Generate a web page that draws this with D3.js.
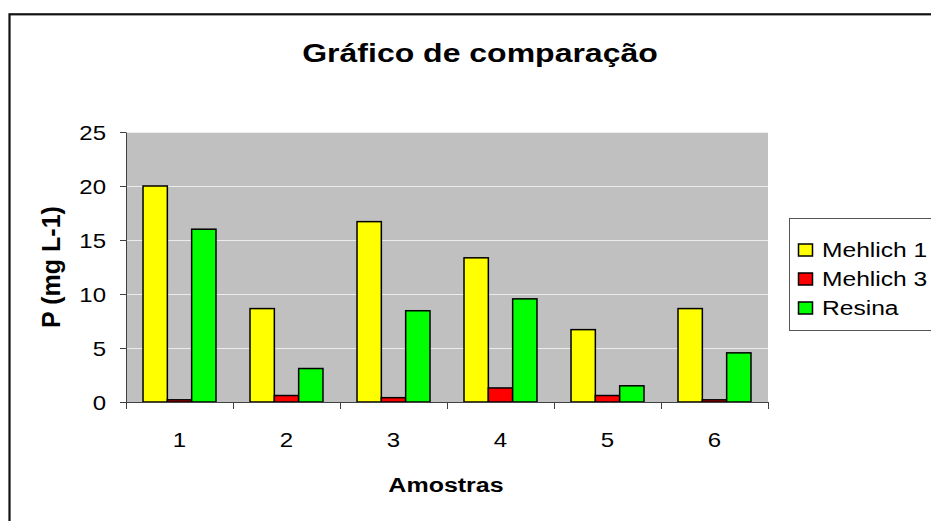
<!DOCTYPE html>
<html>
<head>
<meta charset="utf-8">
<script src="https://cdn.jsdelivr.net/npm/d3@7"></script>
<style>
  body { margin: 0; background: #fff; }
  text { font-family: "Liberation Sans", Arial, sans-serif; }
</style>
</head>
<body>
<div id="figure"></div>
<script>
// data
var samples = ["1", "2", "3", "4", "5", "6"];
var seriesNames = ["Mehlich 1", "Mehlich 3", "Resina"];
var mehlich1 = [20.0, 8.65, 16.7, 13.35, 6.7, 8.65];
var mehlich3 = [0.2, 0.6, 0.4, 1.3, 0.6, 0.2];
var resina = [16.0, 3.1, 8.45, 9.55, 1.5, 4.55];
var yTicks = [0, 5, 10, 15, 20, 25];
var colors = ["#ffff00", "#ff0000", "#00ff00"];

var w = 931, h = 521;
var svg = d3.select("#figure").append("svg")
    .attr("width", w)
    .attr("height", h);

// outer chart frame (runs off the right and bottom edges)
svg.append("rect")
    .attr("x", 9.5).attr("y", 14.3)
    .attr("width", w + 20).attr("height", h + 20)
    .attr("fill", "#fff")
    .attr("stroke", "#111")
    .attr("stroke-width", 2.2);

svg.append("text")
    .attr("transform", "translate(480,62) scale(1.28,1)")
    .attr("text-anchor", "middle")
    .style("font-size", "25px")
    .attr("font-weight", "bold")
    .text("Gráfico de comparação");

var plotLeft = 126, plotRight = 768, plotTop = 132, plotBottom = 402;

var x0 = d3.scaleBand().domain(samples).range([plotLeft, plotRight]);
var yScale = d3.scaleLinear().domain([0, 25]).range([plotBottom, plotTop]);

// plot area
svg.append("rect")
    .attr("x", plotLeft).attr("y", plotTop)
    .attr("width", plotRight - plotLeft).attr("height", plotBottom - plotTop)
    .attr("fill", "#c0c0c0");

svg.selectAll(".grid")
    .data(yTicks.filter(function(d) { return d > 0; }))
    .enter().append("line")
    .attr("x1", plotLeft).attr("x2", plotRight)
    .attr("y1", function(d) { return Math.round(yScale(d)) + 0.5; })
    .attr("y2", function(d) { return Math.round(yScale(d)) + 0.5; })
    .attr("stroke", "#ececec")
    .attr("stroke-width", 1);

// bars: gap width 140% like Excel
var bw = x0.bandwidth() / 4.4;
var gap = bw * 0.7;
var table = [mehlich1, mehlich3, resina];
samples.forEach(function(s, i) {
    table.forEach(function(vals, k) {
        svg.append("rect")
            .attr("x", x0(s) + gap + k * bw)
            .attr("y", yScale(vals[i]))
            .attr("width", bw)
            .attr("height", plotBottom - yScale(vals[i]))
            .attr("fill", colors[k])
            .attr("stroke", "#000")
            .attr("stroke-width", 1.5);
    });
});

// axes
var yAxis = d3.axisLeft(yScale).tickValues(yTicks).tickSize(6).tickSizeOuter(0);
var gy = svg.append("g")
    .attr("transform", "translate(" + plotLeft + ",0)")
    .call(yAxis);
gy.select(".domain").attr("stroke", "#404040");
gy.selectAll(".tick line").attr("stroke", "#404040");
gy.selectAll("text")
    .style("font-size", "20px")
    .attr("fill", "#000")
    .attr("x", 0)
    .attr("dy", "0.35em")
    .attr("transform", "translate(-20,0) scale(1.2,1)");

var xAxis = d3.axisBottom(x0).tickSize(0).tickSizeOuter(0);
var gx = svg.append("g")
    .attr("transform", "translate(0," + plotBottom + ")")
    .call(xAxis);
gx.select(".domain").attr("stroke", "#404040");
gx.selectAll("text")
    .style("font-size", "20px")
    .attr("fill", "#000")
    .attr("dy", "0")
    .attr("y", 0)
    .attr("transform", "translate(0,45) scale(1.2,1)");

// category boundary ticks
var bounds = samples.map(function(s) { return x0(s); }).concat([plotRight]);
svg.selectAll(".btick")
    .data(bounds)
    .enter().append("line")
    .attr("x1", function(d) { return Math.round(d) + 0.5; })
    .attr("x2", function(d) { return Math.round(d) + 0.5; })
    .attr("y1", plotBottom).attr("y2", plotBottom + 7)
    .attr("stroke", "#404040");

svg.append("text")
    .attr("transform", "translate(59.5," + ((plotTop + plotBottom) / 2) + ") rotate(-90)")
    .attr("text-anchor", "middle")
    .style("font-size", "25px")
    .attr("font-weight", "bold")
    .text("P (mg L-1)");

svg.append("text")
    .attr("transform", "translate(446,492) scale(1.25,1)")
    .attr("text-anchor", "middle")
    .style("font-size", "20px")
    .attr("font-weight", "bold")
    .text("Amostras");

// legend
var lg = svg.append("g");
lg.append("rect")
    .attr("x", 789.5).attr("y", 218.5)
    .attr("width", 160).attr("height", 112)
    .attr("fill", "#fff")
    .attr("stroke", "#555")
    .attr("stroke-width", 1);
seriesNames.forEach(function(name, k) {
    var base = 257 + k * 29;
    lg.append("rect")
        .attr("x", 798.5).attr("y", base - 13)
        .attr("width", 14).attr("height", 12)
        .attr("fill", colors[k])
        .attr("stroke", "#000")
        .attr("stroke-width", 1.5);
    lg.append("text")
        .attr("transform", "translate(822," + base + ") scale(1.23,1)")
        .style("font-size", "20px")
        .text(name);
});
</script>
</body>
</html>
